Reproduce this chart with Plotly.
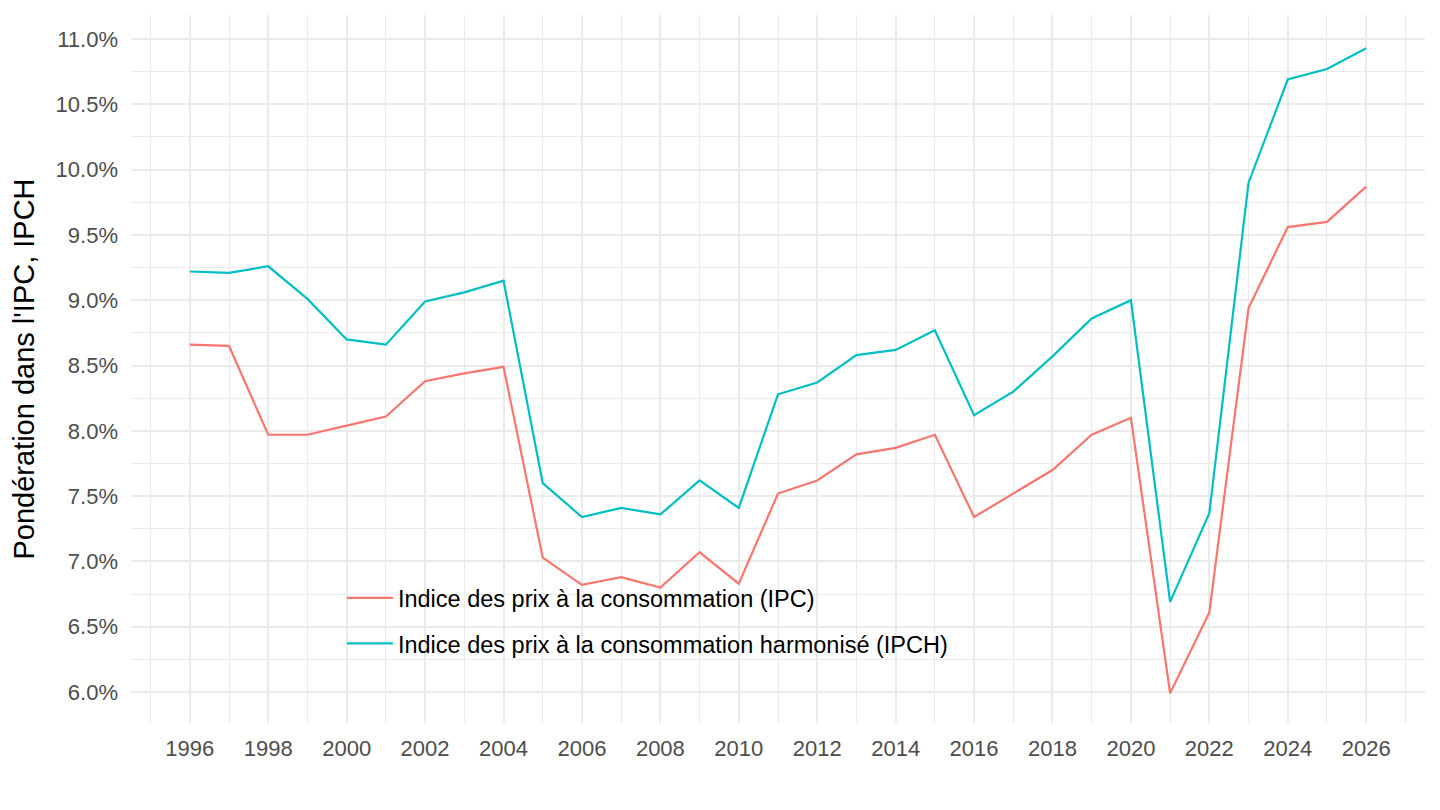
import plotly.graph_objects as go

years = list(range(1996, 2027))
ipc = [8.66, 8.65, 7.97, 7.97, 8.04, 8.11, 8.38, 8.44, 8.49, 7.03,
       6.82, 6.88, 6.80, 7.07, 6.83, 7.52, 7.62, 7.82, 7.87, 7.97,
       7.34, 7.52, 7.70, 7.97, 8.10, 5.99, 6.61, 8.94, 9.56, 9.60, 9.87]
ipch = [9.22, 9.21, 9.26, 9.01, 8.70, 8.66, 8.99, 9.06, 9.15, 7.60,
        7.34, 7.41, 7.36, 7.62, 7.41, 8.28, 8.37, 8.58, 8.62, 8.77,
        8.12, 8.30, 8.57, 8.86, 9.00, 6.69, 7.37, 9.90, 10.69, 10.77, 10.93]
series_names = ["Indice des prix à la consommation (IPC)",
                "Indice des prix à la consommation harmonisé (IPCH)"]
colors = ["#F8766D", "#00BFC4"]
y_title = "Pondération dans l'IPC, IPCH"

FONT = "Liberation Sans, Arial, Helvetica, sans-serif"

fig = go.Figure()
for i, (name, vals, col) in enumerate(zip(series_names, [ipc, ipch], colors)):
    fig.add_trace(go.Scatter(x=years, y=vals, mode="lines", name=name,
                             legendgroup=f"g{i}",
                             line=dict(color=col, width=2.2)))

# page body has an 8px default margin; compensate so the plot area lands
# at the same place as in the reference
fig.update_layout(
    width=1432, height=802,
    paper_bgcolor="white", plot_bgcolor="white",
    margin=dict(l=123, r=15, t=7, b=87),
    font=dict(family=FONT, size=22, color="#4D4D4D"),
    legend=dict(x=0.163, y=0.2076, xanchor="left", yanchor="top",
                bgcolor="rgba(0,0,0,0)", font=dict(size=23.5, color="black"),
                tracegroupgap=12, itemwidth=46),
    showlegend=True,
)
fig.update_xaxes(
    range=[1994.5, 2027.5], tickmode="linear", tick0=1996, dtick=2,
    showgrid=True, gridcolor="#EBEBEB", gridwidth=2,
    minor=dict(showgrid=True, gridcolor="#EBEBEB", gridwidth=1, dtick=1, tick0=1995),
    zeroline=False, showline=False, ticks="", ticklabelstandoff=10,
    tickfont=dict(size=22, color="#4D4D4D"), automargin=False,
)
fig.update_yaxes(
    range=[5.763, 11.184], tickmode="linear", tick0=6, dtick=0.5,
    tickformat=".1f", ticksuffix="%",
    showgrid=True, gridcolor="#EBEBEB", gridwidth=2,
    minor=dict(showgrid=True, gridcolor="#EBEBEB", gridwidth=1, dtick=0.25, tick0=5.75),
    zeroline=False, showline=False, ticks="", ticklabelstandoff=12,
    tickfont=dict(size=22, color="#4D4D4D"), automargin=False,
    title=dict(text=y_title, font=dict(size=29, color="black"), standoff=12),
)

fig.write_html("out.html")
